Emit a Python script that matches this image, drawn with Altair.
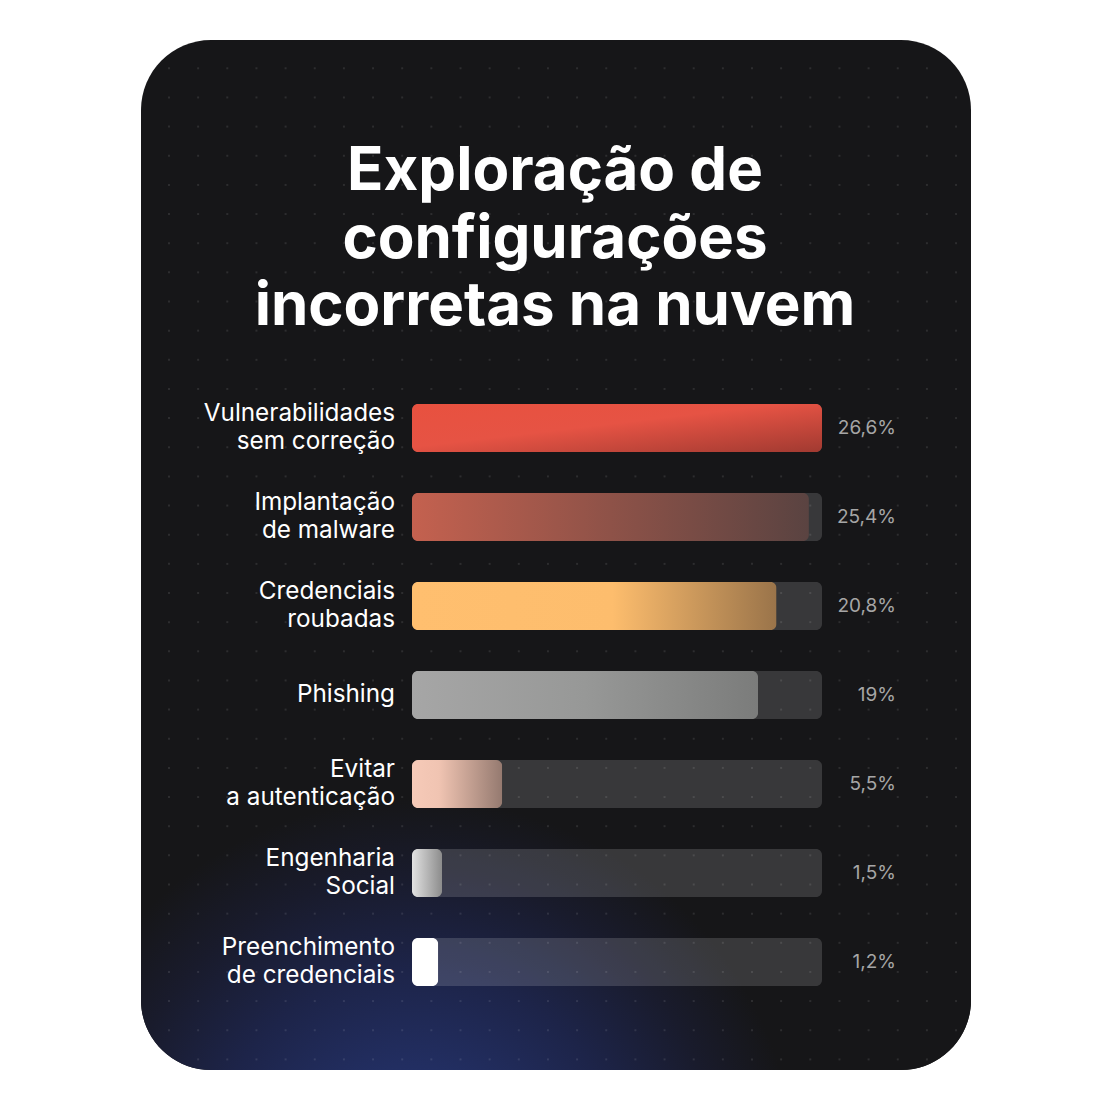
import altair as alt
import pandas as pd

# ---- data ----
categories = [
    "Vulnerabilidades\nsem correção",
    "Implantação\nde malware",
    "Credenciais\nroubadas",
    "Phishing",
    "Evitar\na autenticação",
    "Engenharia\nSocial",
    "Preenchimento\nde credenciais",
]
value_labels = ["26,6%", "25,4%", "20,8%", "19%", "5,5%", "1,5%", "1,2%"]
# bar lengths as drawn in the picture (same units as the percent scale)
bar_lengths = [26.6, 25.75, 23.65, 22.45, 5.85, 1.95, 1.7]
title_lines = ["Exploração de", "configurações", "incorretas na nuvem"]

# gradient stops per bar (left -> right)
bar_gradients = [
    [("#e8513f", 0.0), ("#e65344", 0.45), ("#a13a31", 1.0)],
    [("#c4614f", 0.0), ("#8e5248", 0.5), ("#5a4341", 1.0)],
    [("#ffbf6f", 0.0), ("#fdbd6d", 0.55), ("#9a744a", 1.0)],
    [("#a6a6a6", 0.0), ("#979897", 0.5), ("#7b7c7b", 1.0)],
    [("#f6cab8", 0.0), ("#f0c4b2", 0.3), ("#957a70", 1.0)],
    [("#e2e2e2", 0.0), ("#8c8c8c", 1.0)],
    [("#ffffff", 0.0), ("#ffffff", 1.0)],
]

keys = [f"k{i}" for i in range(len(categories))]
parts = [c.split("\n") for c in categories]
df = pd.DataFrame({
    "key": keys,
    "line1": [p[0] for p in parts],
    "line2": [p[1] if len(p) > 1 else "" for p in parts],
    "nlines": [len(p) for p in parts],
    "value_label": value_labels,
    "bar": bar_lengths,
})
df["track"] = max(bar_lengths)

# ---- layout (plot area = bar region) ----
X0, Y0 = 412, 383.5          # plot origin in the page
W, H = 410, 623
STEP = H / len(keys)
pad_inner = 1 - 48 / STEP

xscale = alt.Scale(domain=[0, max(bar_lengths)], nice=False, zero=True)
yscale = alt.Scale(domain=keys, paddingInner=pad_inner, paddingOuter=pad_inner / 2)
X = lambda f: alt.X(f, type="quantitative", scale=xscale, axis=None)
Y = alt.Y("key:N", scale=yscale, axis=None, sort=keys)

one = pd.DataFrame({"a": [0]})

card = alt.Chart(one).mark_rect(color="#161618", cornerRadius=70).encode(
    x=alt.value(141 - X0), x2=alt.value(971 - X0),
    y=alt.value(40 - Y0), y2=alt.value(1070 - Y0),
)

glow = alt.Chart(one).mark_rect(
    cornerRadiusBottomLeft=70, cornerRadiusBottomRight=70,
    color=alt.RadialGradient(
        gradient="radial",
        stops=[
            alt.GradientStop(color="#29377c", offset=0.0),
            alt.GradientStop(color="#222e61", offset=0.3),
            alt.GradientStop(color="#1d2449", offset=0.55),
            alt.GradientStop(color="#191b2c", offset=0.8),
            alt.GradientStop(color="#161618", offset=1.0),
        ],
        x1=0.33, y1=0.916, r1=0.0,
        x2=0.33, y2=0.916, r2=0.46,
    ),
).encode(
    x=alt.value(141 - X0), x2=alt.value(971 - X0),
    y=alt.value(600 - Y0), y2=alt.value(1070 - Y0),
)

NC, NR = 28, 35
dots = (
    alt.Chart(alt.sequence(0, NC * NR, as_="i"))
    .transform_calculate(
        px=f"169 + 29.15 * (datum.i % {NC})",
        py=f"68.3 + 29.15 * floor(datum.i / {NC})",
    )
    .transform_calculate(
        ddx="max(211 - datum.px, 0, datum.px - 901)",
        ddy="max(110 - datum.py, 0, datum.py - 1000)",
        xp=f"datum.px - {X0}",
        yp=f"datum.py - {Y0}",
    )
    .transform_filter("datum.ddx * datum.ddx + datum.ddy * datum.ddy <= 4200")
    .mark_square(size=4, color="#ffffff", opacity=0.1)
    .encode(
        x=alt.X("xp:Q", scale=None, axis=None),
        y=alt.Y("yp:Q", scale=None, axis=None),
    )
)

base = alt.Chart(df)

track = base.mark_bar(color="#ffffff", opacity=0.15, cornerRadius=6).encode(
    x=X("track"), y=Y
)

bar_layers = []
for k, stops in zip(keys, bar_gradients):
    grad = alt.LinearGradient(
        gradient="linear",
        stops=[alt.GradientStop(color=c, offset=o) for c, o in stops],
        x1=0, y1=0, x2=1, y2=(1 if k == "k0" else 0),
    )
    bar_layers.append(
        base.transform_filter(alt.datum.key == k)
        .mark_bar(color=grad, cornerRadius=6)
        .encode(x=X("bar"), y=Y)
    )

label_style = dict(align="right", baseline="middle", font="Inter",
                   fontSize=24.3, color="#ffffff")
LX = alt.value(395 - X0)
labels_single = base.transform_filter("datum.nlines == 1").mark_text(
    **label_style).encode(y=Y, x=LX, text="line1:N")
labels_top = base.transform_filter("datum.nlines == 2").mark_text(
    dy=-14, **label_style).encode(y=Y, x=LX, text="line1:N")
labels_bot = base.transform_filter("datum.nlines == 2").mark_text(
    dy=14, **label_style).encode(y=Y, x=LX, text="line2:N")

values = base.mark_text(
    align="right", baseline="middle",
    font="Inter", fontSize=19, color="#a6a6a6",
).encode(y=Y, x=alt.value(896 - X0), text="value_label:N")

title = alt.Chart(pd.DataFrame({"t": ["\n".join(title_lines)]})).mark_text(
    align="center", baseline="alphabetic", lineBreak="\n", lineHeight=67.5,
    font="Inter", fontSize=60, fontWeight="bold", color="#ffffff",
).encode(x=alt.value(555 - X0), y=alt.value(190 - Y0), text="t:N")

chart = (
    alt.layer(card, glow, dots, track, *bar_layers,
              labels_single, labels_top, labels_bot, values, title)
    .properties(
        width=W, height=H,
        autosize=alt.AutoSizeParams(type="none"),
        padding={"left": X0, "top": Y0, "right": 1111 - X0 - W, "bottom": 1110 - Y0 - H},
        background="#ffffff",
    )
    .configure_view(stroke=None)
)

chart.save("out.html", embed_options={"renderer": "svg", "actions": False})
